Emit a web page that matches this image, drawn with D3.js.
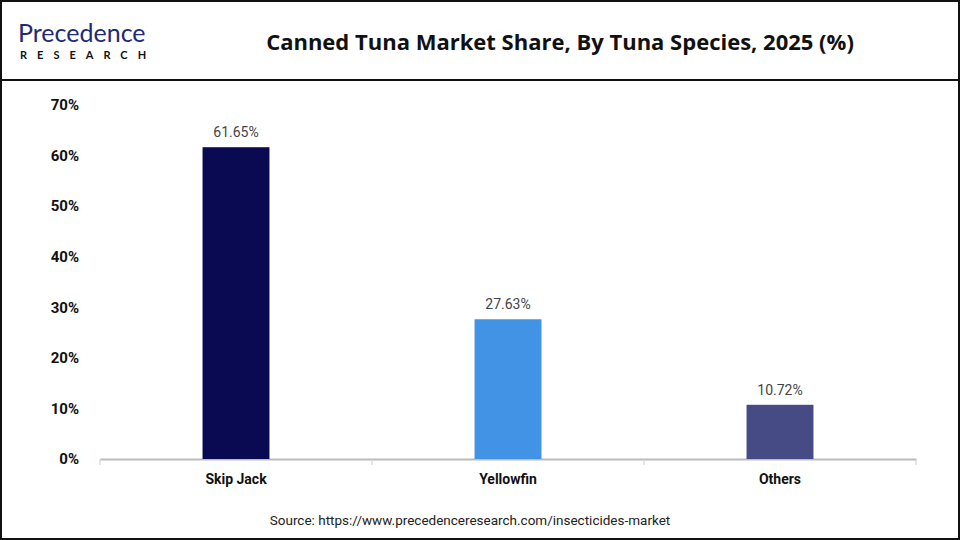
<!DOCTYPE html>
<html><head><meta charset="utf-8">
<script src="https://cdn.jsdelivr.net/npm/d3@7"></script>
<style>body{margin:0;background:#fff}</style></head>
<body><svg id="c" width="960" height="540"></svg>
<script>
const categories = ["Skip Jack", "Yellowfin", "Others"];
const values = [61.65, 27.63, 10.72];
const colors = ["#0a0a52", "#4293e6", "#464b86"];
const yTicks = [0, 10, 20, 30, 40, 50, 60, 70];

const svg = d3.select("#c");
svg.append("rect").attr("x",1).attr("y",1).attr("width",958).attr("height",538).attr("fill","#fff").attr("stroke","#111").attr("stroke-width",2);
svg.append("line").attr("x1",0).attr("x2",960).attr("y1",80).attr("y2",80).attr("stroke","#111").attr("stroke-width",2);

// logo
svg.append("text").attr("x",18).attr("y",42).attr("font-family","Lato, sans-serif").attr("font-size",25).attr("fill","#1e2a78").text("Precedence");
svg.append("text").attr("x",20).attr("y",59).attr("font-family","Lato, sans-serif").attr("font-size",11).attr("font-weight","bold").attr("fill","#111").attr("letter-spacing","10px").text("RESEARCH");

svg.append("text").attr("x",560).attr("y",50).attr("text-anchor","middle").attr("font-family","'Open Sans', sans-serif").attr("font-weight","bold").attr("font-size",22).attr("fill","#111").text("Canned Tuna Market Share, By Tuna Species, 2025 (%)");

const x = d3.scaleBand().domain(categories).range([100,916]).paddingInner(0.754).paddingOuter(0.377);
const y = d3.scaleLinear().domain([0,70]).range([459,105]);

const gx = svg.append("g").attr("transform","translate(0,459)").call(d3.axisBottom(x).tickSize(0).tickPadding(12).tickSizeOuter(0));
gx.select(".domain").attr("stroke","#bbb").attr("stroke-width",2);
gx.selectAll("text").attr("font-family","Roboto, sans-serif").attr("font-weight","bold").attr("font-size",14).attr("fill","#111").attr("dy","0.9em");
const seps = [0,1,2,3].map(i=> i===0?100: i===3?916 : (x(categories[i-1])+x.bandwidth()+x(categories[i]))/2);
svg.selectAll(".sep").data(seps).enter().append("line").attr("x1",d=>d).attr("x2",d=>d).attr("y1",459).attr("y2",465).attr("stroke","#ccc");

const gy = svg.append("g").attr("transform","translate(82,0)").call(d3.axisLeft(y).tickValues(yTicks).tickFormat(d=>d+"%").tickSize(0));
gy.select(".domain").remove();
gy.selectAll("text").attr("font-family","Roboto, sans-serif").attr("font-weight","bold").attr("font-size",15).attr("fill","#111");

svg.selectAll(".bar").data(values).enter().append("rect")
 .attr("x",(d,i)=>x(categories[i])).attr("width",x.bandwidth())
 .attr("y",d=>y(d)).attr("height",d=>459-y(d)).attr("fill",(d,i)=>colors[i]);
svg.selectAll(".lbl").data(values).enter().append("text")
 .attr("x",(d,i)=>x(categories[i])+x.bandwidth()/2).attr("y",d=>y(d)-10)
 .attr("text-anchor","middle").attr("font-family","Roboto, sans-serif").attr("font-size",14).attr("fill","#444").text(d=>d.toFixed(2)+"%");

svg.append("text").attr("x",470).attr("y",525).attr("text-anchor","middle").attr("font-family","Roboto, sans-serif").attr("font-size",13.5).attr("fill","#222").text("Source: https://www.precedenceresearch.com/insecticides-market");
</script></body></html>
